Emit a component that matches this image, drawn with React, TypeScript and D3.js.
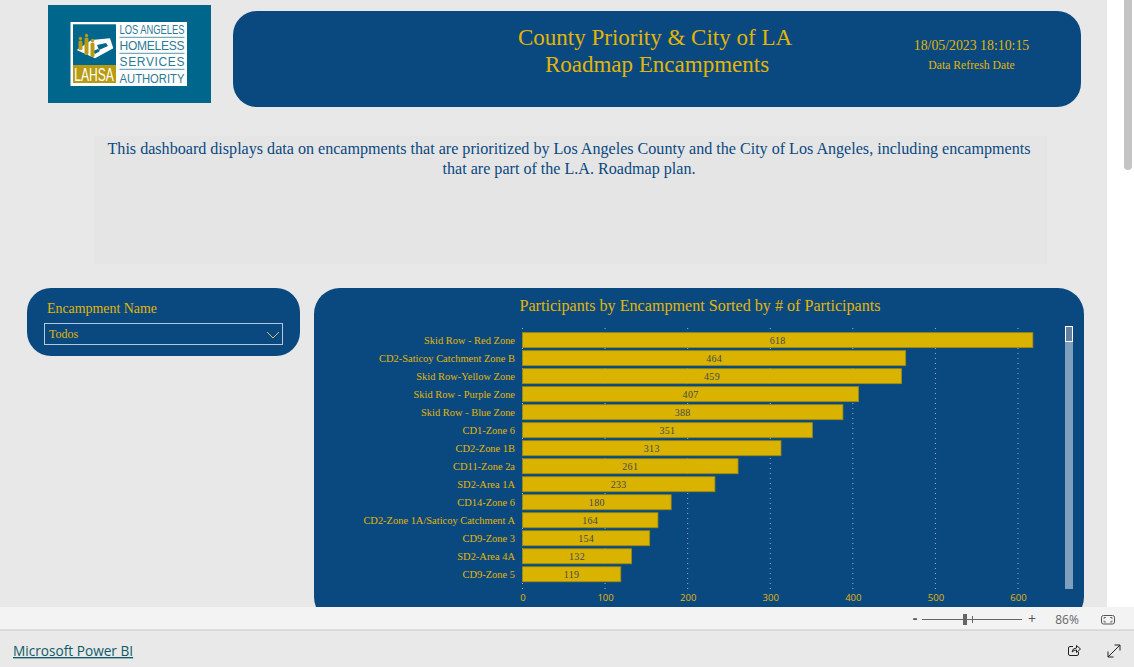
import React, { useEffect, useRef } from 'react';
import * as d3 from 'd3';

const encampments = [
  'Skid Row - Red Zone',
  'CD2-Saticoy Catchment Zone B',
  'Skid Row-Yellow Zone',
  'Skid Row - Purple Zone',
  'Skid Row - Blue Zone',
  'CD1-Zone 6',
  'CD2-Zone 1B',
  'CD11-Zone 2a',
  'SD2-Area 1A',
  'CD14-Zone 6',
  'CD2-Zone 1A/Saticoy Catchment A',
  'CD9-Zone 3',
  'SD2-Area 4A',
  'CD9-Zone 5',
];
const participants = [618, 464, 459, 407, 388, 351, 313, 261, 233, 180, 164, 154, 132, 119];
const xTicks = [0, 100, 200, 300, 400, 500, 600];
const logoLines = ['LOS ANGELES', 'HOMELESS', 'SERVICES', 'AUTHORITY'];

const NAVY = '#0a4980';
const GOLD = '#e3b505';
const TEAL = '#00668c';
const LOGO_GOLD = '#b89b12';
const SERIF = '"Liberation Serif", "Times New Roman", serif';
const SANS = '"Open Sans", "Noto Sans", sans-serif';
const LOGO_FONT = '"Liberation Sans", sans-serif';

const App: React.FC = () => {
  const svgRef = useRef<SVGSVGElement>(null);

  useEffect(() => {
    const svg = d3.select(svgRef.current);
    svg.selectAll('*').remove();

    const x = d3.scaleLinear().domain([0, 600]).range([522.5, 1018]);
    const y = d3
      .scaleBand<string>()
      .domain(encampments)
      .range([331.2, 583.2])
      .paddingInner(0.167)
      .paddingOuter(0.08);

    // page
    svg.append('rect').attr('width', 1134).attr('height', 667).attr('fill', '#fff');
    svg.append('rect').attr('width', 1107).attr('height', 607).attr('fill', '#e8e8e8');
    svg.append('rect').attr('x', 1124).attr('y', -6).attr('width', 8).attr('height', 176).attr('rx', 4).attr('fill', '#c4c4c4');

    // logo
    const logo = svg.append('g');
    logo.append('rect').attr('x', 48).attr('y', 5).attr('width', 163).attr('height', 98).attr('fill', TEAL);
    logo.append('rect').attr('x', 70.5).attr('y', 22).attr('width', 116.5).attr('height', 64).attr('fill', '#fff');
    logo.append('rect').attr('x', 73).attr('y', 24.3).attr('width', 43).attr('height', 41).attr('fill', TEAL);
    logo.append('rect').attr('x', 73).attr('y', 65).attr('width', 43).attr('height', 18).attr('fill', LOGO_GOLD);
    logo.append('path').attr('d', 'M91.5 40 L110 38.3 L113.3 48.3 L95 58.3 L76.7 50 Z').attr('fill', '#fff');
    logo.append('path').attr('d', 'M97 45 L106 43 L108 46 L99 50 Z M93 51 L98 49 L100 51 L95 54 Z').attr('fill', TEAL);
    [[80.5, 37, 13], [86.5, 34, 21], [92.5, 39, 18]].forEach(([cx, top, h]) => {
      logo.append('circle').attr('cx', cx).attr('cy', top + 1.5).attr('r', 1.7).attr('fill', LOGO_GOLD);
      logo.append('rect').attr('x', cx - 2).attr('y', top + 3.5).attr('width', 4).attr('height', h - 3.5).attr('rx', 1.5).attr('fill', LOGO_GOLD);
    });
    logo.append('text').text('LAHSA').attr('transform', 'translate(74.3,80.7) scale(0.67,1)')
      .attr('font-family', LOGO_FONT).attr('font-size', 18).attr('fill', '#fff');
    [33.5, 50, 66, 82.7].forEach((baseline, i) => {
      logo.append('text').text(logoLines[i]).attr('x', 119.5).attr('y', baseline)
        .attr('font-family', LOGO_FONT).attr('font-size', 12).attr('fill', '#2b7a96')
        .attr('textLength', 65).attr('lengthAdjust', i === 0 || i === 3 ? 'spacingAndGlyphs' : 'spacing');
    });
    [37.3, 53.3, 69.3].forEach((ly) => {
      logo.append('line').attr('x1', 119.5).attr('x2', 184.5).attr('y1', ly).attr('y2', ly)
        .attr('stroke', '#2b7a96').attr('stroke-width', 0.8);
    });

    // header
    svg.append('rect').attr('x', 233).attr('y', 11).attr('width', 848).attr('height', 96).attr('rx', 24).attr('fill', NAVY);
    const head = (t: string, xp: number, yp: number, size: number) =>
      svg.append('text').text(t).attr('x', xp).attr('y', yp).attr('text-anchor', 'middle')
        .attr('font-family', SERIF).attr('font-size', size).attr('fill', GOLD);
    head('County Priority & City of LA', 655, 45, 23);
    head('Roadmap Encampments', 657, 72, 23);
    head('18/05/2023 18:10:15', 971.5, 50, 13.8);
    head('Data Refresh Date', 971.5, 69, 11.7);

    // description box
    svg.append('rect').attr('x', 94).attr('y', 136).attr('width', 953).attr('height', 128).attr('fill', '#e5e5e5');
    [
      ['This dashboard displays data on encampments that are prioritized by Los Angeles County and the City of Los Angeles, including encampments', 154],
      ['that are part of the L.A. Roadmap plan.', 173.5],
    ].forEach(([t, yp]) => {
      svg.append('text').text(t as string).attr('x', 569).attr('y', yp as number).attr('text-anchor', 'middle')
        .attr('font-family', SERIF).attr('font-size', 16.1).attr('fill', '#0a4980');
    });

    // slicer
    svg.append('rect').attr('x', 27).attr('y', 288).attr('width', 273).attr('height', 68).attr('rx', 24).attr('fill', NAVY);
    svg.append('text').text('Encampment Name').attr('x', 47).attr('y', 313)
      .attr('font-family', SERIF).attr('font-size', 13.9).attr('fill', GOLD);
    svg.append('rect').attr('x', 44.5).attr('y', 323.5).attr('width', 238).attr('height', 21)
      .attr('fill', 'none').attr('stroke', '#b9c8d8').attr('stroke-width', 1);
    svg.append('text').text('Todos').attr('x', 49).attr('y', 338)
      .attr('font-family', SERIF).attr('font-size', 12).attr('fill', GOLD);
    svg.append('path').attr('d', 'M267 332 L273 338 L279 332').attr('fill', 'none').attr('stroke', '#d8c070').attr('stroke-width', 1);

    // chart panel
    svg.append('rect').attr('x', 314).attr('y', 288).attr('width', 770).attr('height', 335).attr('rx', 26).attr('fill', NAVY);
    svg.append('text').text('Participants by Encampment Sorted by # of Participants').attr('x', 700).attr('y', 311)
      .attr('text-anchor', 'middle').attr('font-family', SERIF).attr('font-size', 16.13).attr('fill', GOLD);

    // gridlines
    svg.append('g').selectAll('line').data(xTicks).join('line')
      .attr('x1', (d) => x(d)).attr('x2', (d) => x(d)).attr('y1', 328).attr('y2', 590)
      .attr('stroke', '#9db4c9').attr('stroke-width', 1).attr('stroke-dasharray', '1 4');

    // bars
    const rows = encampments.map((name, i) => ({ name, value: participants[i] }));
    svg.append('g').selectAll('rect').data(rows).join('rect')
      .attr('x', x(0)).attr('y', (d) => y(d.name) as number)
      .attr('width', (d) => x(d.value) - x(0)).attr('height', y.bandwidth())
      .attr('fill', '#dab200').attr('stroke', '#9c8a10').attr('stroke-width', 0.8);
    svg.append('g').selectAll('text').data(rows).join('text')
      .text((d) => d.value)
      .attr('x', (d) => (x(d.value) + x(0)) / 2).attr('y', (d) => (y(d.name) as number) + y.bandwidth() / 2 + 3.5)
      .attr('text-anchor', 'middle').attr('font-family', SERIF).attr('font-size', 10).attr('letter-spacing', 0.3).attr('fill', '#3f4a50');

    // category axis
    const yAxis = svg.append('g').attr('transform', `translate(515,0)`)
      .call(d3.axisLeft(y).tickSize(0).tickPadding(0));
    yAxis.select('.domain').remove();
    yAxis.selectAll('text').attr('font-family', SERIF).attr('font-size', 10.45).attr('fill', GOLD);

    // value axis
    const xAxis = svg.append('g').attr('transform', `translate(0,589.5)`)
      .call(d3.axisBottom(x).tickValues(xTicks).tickSize(0).tickPadding(5).tickFormat((d) => `${d}`));
    xAxis.select('.domain').remove();
    xAxis.selectAll('text').attr('font-family', SANS).attr('font-size', 9.5).attr('fill', GOLD);

    // chart scrollbar
    svg.append('rect').attr('x', 1065).attr('y', 326).attr('width', 8).attr('height', 263).attr('fill', '#7f9fbf');
    svg.append('rect').attr('x', 1065.5).attr('y', 326.5).attr('width', 7).attr('height', 15).attr('fill', '#64809c').attr('stroke', '#fff').attr('stroke-width', 1);

    // footer
    svg.append('rect').attr('y', 607).attr('width', 1134).attr('height', 23).attr('fill', '#f3f3f3');
    svg.append('rect').attr('y', 630).attr('width', 1134).attr('height', 37).attr('fill', '#e9e9e9');
    svg.append('line').attr('x1', 0).attr('x2', 1134).attr('y1', 630).attr('y2', 630).attr('stroke', '#c8c8c8');
    svg.append('text').text('Microsoft Power BI').attr('x', 13).attr('y', 656)
      .attr('font-family', SANS).attr('font-size', 13.65).attr('fill', '#0f5b66').attr('text-decoration', 'underline');
    svg.append('text').text('-').attr('x', 915).attr('y', 623).attr('text-anchor', 'middle')
      .attr('font-family', SANS).attr('font-size', 14).attr('font-weight', 700).attr('fill', '#555');
    svg.append('line').attr('x1', 922).attr('x2', 1022).attr('y1', 619.5).attr('y2', 619.5).attr('stroke', '#666');
    svg.append('line').attr('x1', 972.5).attr('x2', 972.5).attr('y1', 616).attr('y2', 623).attr('stroke', '#666');
    svg.append('rect').attr('x', 963).attr('y', 614).attr('width', 4).attr('height', 11).attr('fill', '#666');
    svg.append('text').text('+').attr('x', 1032).attr('y', 624).attr('text-anchor', 'middle')
      .attr('font-family', SANS).attr('font-size', 14).attr('fill', '#555');
    svg.append('text').text('86%').attr('x', 1067).attr('y', 624).attr('text-anchor', 'middle')
      .attr('font-family', SANS).attr('font-size', 12).attr('fill', '#666');
    svg.append('rect').attr('x', 1101.5).attr('y', 615.5).attr('width', 13).attr('height', 8.5).attr('rx', 2).attr('fill', 'none').attr('stroke', '#555');
    svg.append('path').attr('d', 'M1104 619 L1104 617.5 L1106 617.5 M1110 617.5 L1112 617.5 L1112 619 M1104 620.5 L1104 622 L1106 622 M1110 622 L1112 622 L1112 620.5')
      .attr('fill', 'none').attr('stroke', '#555').attr('stroke-width', 0.8);
    svg.append('path').attr('d', 'M1073 646.5 L1070 646.5 Q1068.5 646.5 1068.5 648 L1068.5 654 Q1068.5 655.5 1070 655.5 L1077 655.5 Q1078.5 655.5 1078.5 654 L1078.5 652')
      .attr('fill', 'none').attr('stroke', '#222');
    svg.append('path').attr('d', 'M1072 652 Q1072.5 648 1076.5 648 L1076.5 645.5 L1080.5 649 L1076.5 652.5 L1076.5 650 Q1074 650 1072 652 Z')
      .attr('fill', 'none').attr('stroke', '#222');
    svg.append('path').attr('d', 'M1108 657 L1120 645 M1114.5 645 L1120 645 L1120 650.5 M1108 651.5 L1108 657 L1113.5 657').attr('fill', 'none').attr('stroke', '#222');
  }, []);

  return <svg ref={svgRef} width={1134} height={667} style={{ position: 'absolute', left: 0, top: 0 }} />;
};

export default App;
